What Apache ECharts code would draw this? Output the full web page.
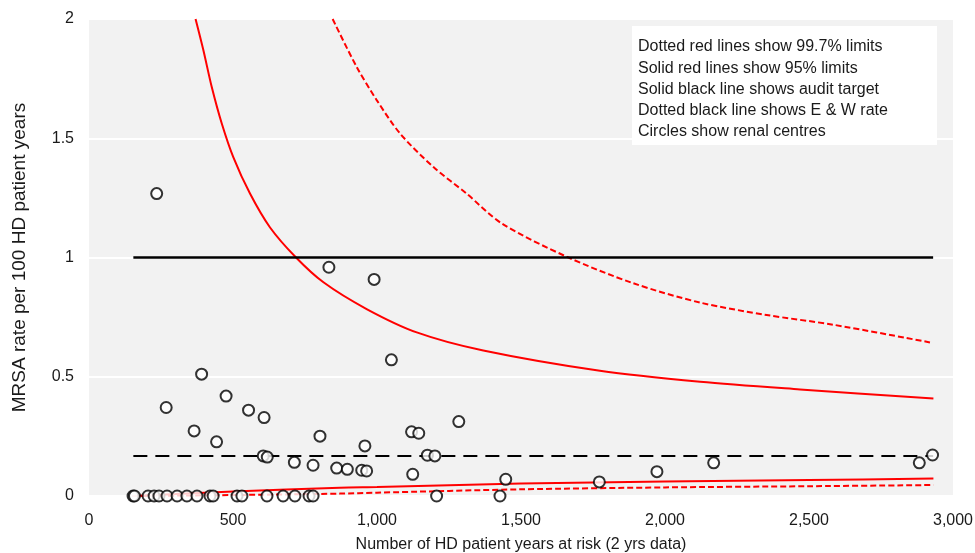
<!DOCTYPE html>
<html>
<head>
<meta charset="utf-8">
<script src="https://cdn.jsdelivr.net/npm/echarts@6/dist/echarts.min.js"></script>
<style>html,body{margin:0;padding:0;background:#fff}#c{width:975px;height:553px}</style>
</head>
<body>
<div id="c"></div>
<script>
// Renal centres: patient years at risk (x) and MRSA rate (y)
const centreX = [153,158,205,226,243,271,306,340,375,420,431,514,531,618,674,715,764,778,1207,1427,
  235,268,365,391,443,476,554,605,608,619,713,778,802,833,860,897,947,958,964,990,1050,1120,1124,1145,1175,1201,1284,1447,1772,1972,2169,2883,2929];
const centreY = [0,0,0,0,0,0,0,0,0,0,0,0,0,0,0,0,0,0,0,0,
  1.268,0.371,0.273,0.511,0.227,0.419,0.360,0.168,0.329,0.163,0.141,0.129,0.251,0.959,0.117,0.112,0.108,0.210,0.105,0.908,0.571,0.269,0.091,0.263,0.171,0.168,0.312,0.070,0.059,0.102,0.139,0.139,0.172];

// 95% upper limit (solid red)
const up95X = [370,397,426,461,501,559,628,718,814,964,1138,1369,1774,2122,2469,2932];
const up95Y = [2.0,1.870,1.716,1.562,1.421,1.268,1.127,1.001,0.896,0.784,0.686,0.610,0.525,0.479,0.447,0.409];
// 99.7% upper limit (dotted red)
const up997X = [846,929,999,1080,1196,1311,1433,1659,1890,2122,2353,2585,2920];
const up997Y = [2.0,1.80,1.66,1.52,1.379,1.268,1.143,1.003,0.892,0.811,0.759,0.718,0.644];
// 95% lower limit (solid red)
const lo95X = [150,300,500,871,1000,1500,2000,2500,2932];
const lo95Y = [0,0.008,0.019,0.035,0.038,0.052,0.061,0.067,0.073];
// 99.7% lower limit (dotted red)
const lo997X = [150,500,871,1000,1500,2000,2500,2932];
const lo997Y = [0,0.004,0.010,0.014,0.028,0.036,0.041,0.046];
// Audit target and E & W rate
const lineX = [154,2931];
const targetY = [1,1];
const ewY = [0.168,0.168];

const xTicks = [0,500,1000,1500,2000,2500,3000];
const yTicks = [0,0.5,1,1.5,2];

const boxLines = ['Dotted red lines show 99.7% limits','Solid red lines show 95% limits','Solid black line shows audit target','Dotted black line shows E & W rate','Circles show renal centres'];

const pairs = (xs, ys) => xs.map((x,i)=>[x,ys[i]]);
const FONT = 'Liberation Sans';
const TXT = '#1a1a1a';

const chart = echarts.init(document.getElementById('c'));
chart.setOption({
  animation:false,
  textStyle:{fontFamily:FONT},
  grid:{left:89,right:22,top:19,bottom:57,containLabel:false,outerBoundsMode:'none',
    show:true,backgroundColor:'#f2f2f2',borderWidth:0},
  xAxis:{type:'value',min:0,max:3000,interval:500,
    name:'Number of HD patient years at risk (2 yrs data)',nameLocation:'middle',nameGap:41,
    nameTextStyle:{fontSize:16,color:TXT,fontFamily:FONT},
    axisLine:{show:false},axisTick:{show:false},splitLine:{show:false},
    axisLabel:{fontSize:16,color:TXT,margin:17,fontFamily:FONT,
      formatter:v=>xTicks.includes(v)?v.toLocaleString('en-US'):''}},
  yAxis:{type:'value',min:0,max:2,interval:0.5,
    name:'MRSA rate per 100 HD patient years',nameLocation:'middle',nameGap:60,nameRotate:90,
    nameTextStyle:{fontSize:19,color:TXT,fontFamily:FONT},
    axisLine:{show:false},axisTick:{show:false},
    splitLine:{show:true,lineStyle:{color:'#ffffff',width:2}},
    axisLabel:{fontSize:16,color:TXT,margin:15,fontFamily:FONT,
      formatter:v=>yTicks.includes(v)?String(v):''}},
  series:[
    {type:'line',data:pairs(up95X,up95Y),smooth:0.3,symbol:'none',lineStyle:{color:'#ff0000',width:2},z:2},
    {type:'line',data:pairs(up997X,up997Y),smooth:0.3,symbol:'none',lineStyle:{color:'#ff0000',width:2,type:[6,3]},z:2},
    {type:'line',data:pairs(lo95X,lo95Y),smooth:0.3,symbol:'none',lineStyle:{color:'#ff0000',width:2},z:2},
    {type:'line',data:pairs(lo997X,lo997Y),smooth:0.3,symbol:'none',lineStyle:{color:'#ff0000',width:2,type:[6,3]},z:2},
    {type:'line',data:pairs(lineX,targetY),symbol:'none',lineStyle:{color:'#000',width:2.5},z:2},
    {type:'line',data:pairs(lineX,ewY),symbol:'none',lineStyle:{color:'#000',width:2,type:[14,8]},z:2},
    {type:'scatter',data:pairs(centreX,centreY),symbol:'circle',symbolSize:11,
      itemStyle:{color:'#fff',borderColor:'#000',borderWidth:2},z:5}
  ],
  graphic:[{type:'group',left:632,top:26,z:100,children:[
    {type:'rect',z:100,shape:{x:0,y:0,width:305,height:119},style:{fill:'#fff'}},
    ...boxLines.map((t,i)=>({type:'text',z:101,x:6,y:13+i*21.2,style:{text:t,font:'16px '+FONT,fill:TXT}}))
  ]}]
});
</script>
</body>
</html>
